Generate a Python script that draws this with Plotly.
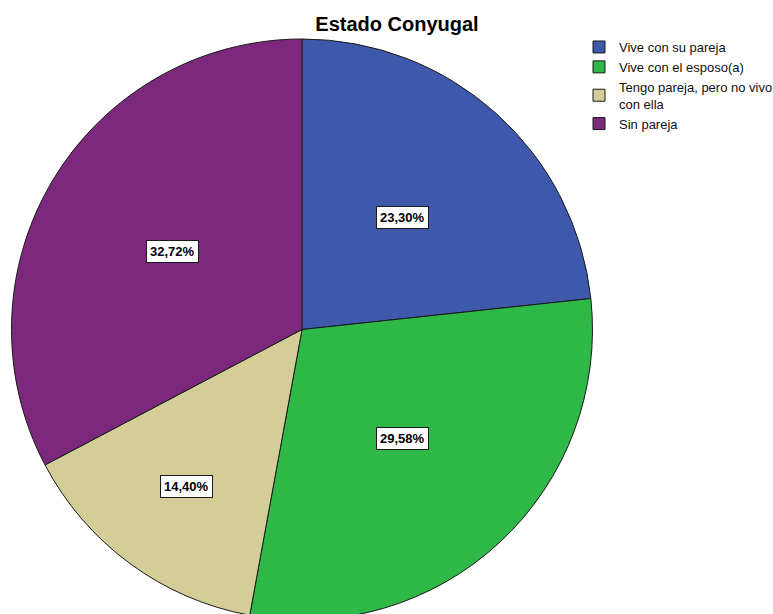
import math
import plotly.graph_objects as go

# Estado conyugal: share of respondents (%)
categories = ["Vive con su pareja", "Vive con el esposo(a)",
              "Tengo pareja, pero no vivo<br>con ella", "Sin pareja"]
percentages = [23.30, 29.58, 14.40, 32.72]
slice_colors = ["#3E58AC", "#2EB848", "#D3CE97", "#7B287D"]

# radial position of each percentage label, as a fraction of the pie radius
label_radius = [0.52, 0.51, 0.67, 0.52]

FONT = "Liberation Sans, Arial"
W, H = 773, 620
M_L, M_R, M_T, M_B = 0, 0, 39, 0
plot_w = W - M_L - M_R
plot_h = H - M_T - M_B

pie_cx_px = 302          # horizontal centre of the pie
radius_px = plot_h / 2
dom_x = [(pie_cx_px - radius_px) / plot_w, (pie_cx_px + radius_px) / plot_w]

fig = go.Figure(go.Pie(
    labels=categories,
    values=percentages,
    sort=False,
    direction="clockwise",
    rotation=0,
    marker=dict(colors=slice_colors, line=dict(color="#1a1a1a", width=1)),
    textinfo="none",
    hoverinfo="label+percent",
    domain=dict(x=dom_x, y=[0, 1]),
))

# boxed percentage labels at each slice's mid-angle
total = sum(percentages)
cum = 0.0
cx_paper = (dom_x[0] + dom_x[1]) / 2
cy_paper = 0.5
for val, rf in zip(percentages, label_radius):
    mid = (cum + val / 2) / total * 2 * math.pi
    cum += val
    dx = math.sin(mid) * radius_px * rf
    dy = math.cos(mid) * radius_px * rf
    fig.add_annotation(
        x=cx_paper + dx / plot_w, y=cy_paper + dy / plot_h,
        xref="paper", yref="paper", xanchor="center", yanchor="middle",
        showarrow=False,
        text=f"<b>{val:.2f}%</b>".replace(".", ","),
        font=dict(family=FONT, size=13, color="#000000"),
        bgcolor="#ffffff", bordercolor="#1a1a1a", borderwidth=1, borderpad=3,
    )

fig.update_layout(
    width=W, height=H,
    margin=dict(l=M_L, r=M_R, t=M_T, b=M_B, autoexpand=False),
    paper_bgcolor="#ffffff", plot_bgcolor="#ffffff",
    title=dict(text="<b>Estado Conyugal</b>", x=397 / W, xref="container",
               xanchor="center", y=1 - 24 / H, yref="container", yanchor="middle",
               font=dict(family=FONT, size=20, color="#000000")),
    legend=dict(x=579 / W, y=1.012, xanchor="left", yanchor="top",
                font=dict(family=FONT, size=13, color="#111111"),
                bgcolor="rgba(0,0,0,0)", tracegroupgap=0, itemwidth=30),
    showlegend=True,
)

fig.write_html("out.html")
